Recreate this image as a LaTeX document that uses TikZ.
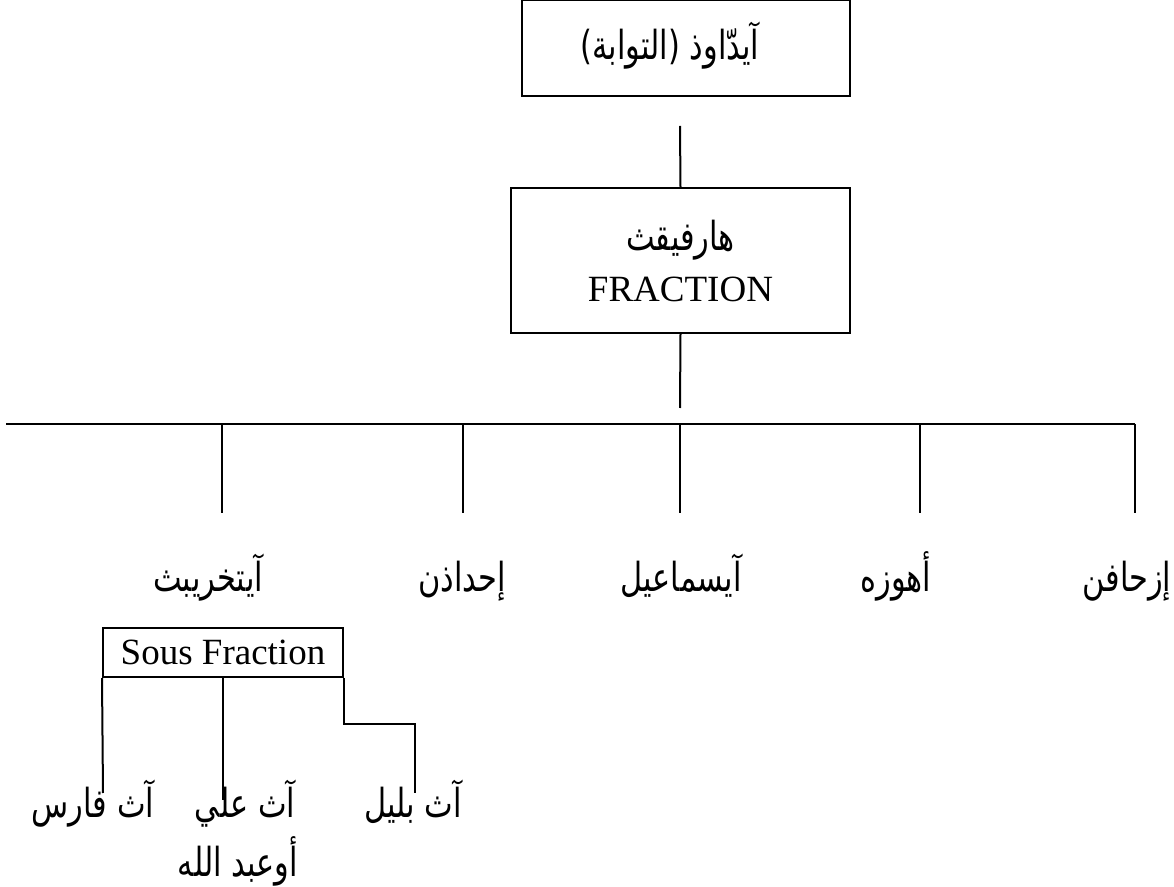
\documentclass[tikz,border=0pt]{standalone}
\usepackage{fontspec}
\setmainfont{Liberation Serif}
\newfontfamily\arabicfont[Script=Arabic, FakeStretch=0.76]{DejaVu Sans}
\TeXXeTstate=1
\usetikzlibrary{positioning}
\newcommand{\artxt}[1]{{\arabicfont\beginR #1\endR}}

\begin{document}
\begin{tikzpicture}[
      x=0.5pt, y=-0.5pt,
      box/.style={draw, line width=1.1pt, inner sep=0pt},
      lbl/.style={inner sep=0pt, anchor=base, font=\fontsize{20}{24}\selectfont},
      lin/.style={line width=1pt}]

      \useasboundingbox (0,0) rectangle (1174,887);

      \node[box, minimum width=164pt, minimum height=48pt] (tawabox) at (686,48) {};
      \node[lbl] (tawaba) at (670,60) {\artxt{آيدّاوذ (التوابة)}};

      \node[box, minimum width=169.5pt, minimum height=72.5pt, align=center,
            font=\fontsize{18.5}{25.5}\selectfont] (fraction) at (680.5,260.5)
            {{\arabicfont\fontsize{20}{25.5}\selectfont\beginR هارفيقث\endR}\\FRACTION};

      % level 1
      \node[lbl] (aitkharibt) at (208,592) {\artxt{آيتخريبث}};
      \node[lbl] (ihdadhen) at (462,592) {\artxt{إحداذن}};
      \node[lbl] (aismail) at (681,592) {\artxt{آيسماعيل}};
      \node[lbl] (ahouzeh) at (896,592) {\artxt{أهوزه}};
      \node[lbl] (izhafen) at (1127,592) {\artxt{إزحافن}};

      % sous fraction
      \node[box, line width=1pt, minimum width=120pt, minimum height=24.5pt,
            font=\fontsize{18.5}{22}\selectfont] (sous) at (223,652.5) {Sous Fraction};

      \node[lbl] (athfares) at (93,818) {\artxt{آث فارس}};
      \node[lbl] (athali) at (245,818) {\artxt{آث علي}};
      \node[lbl] (athbelil) at (413,818) {\artxt{آث بليل}};
      \node[lbl] (ouabdallah) at (238,876) {\artxt{أوعبد الله}};

      \coordinate (t1) at (680,126);
      \coordinate (f1) at (680,408);
      \coordinate (barL) at (6,424);
      \coordinate (barR) at (1135,424);
      \draw[lin] (t1) -- (fraction.north);
      \draw[lin] (fraction.south) -- (f1);
      \draw[lin] (barL) -- (barR);

      \draw[lin] (222,424) -- (222,513);
      \draw[lin] (463,424) -- (463,513);
      \draw[lin] (680,424) -- (680,513);
      \draw[lin] (920,424) -- (920,513);
      \draw[lin] (1135,424) -- (1135,513);

      \coordinate (s1) at (103,793);
      \coordinate (s2) at (223,800);
      \coordinate (s3) at (415,793);
      \draw[lin] (sous.south west) -- (s1);
      \draw[lin] (sous.south) -- (s2);
      \draw[lin] (sous.south east) -- ++(0,46) -| (s3);
\end{tikzpicture}
\end{document}
